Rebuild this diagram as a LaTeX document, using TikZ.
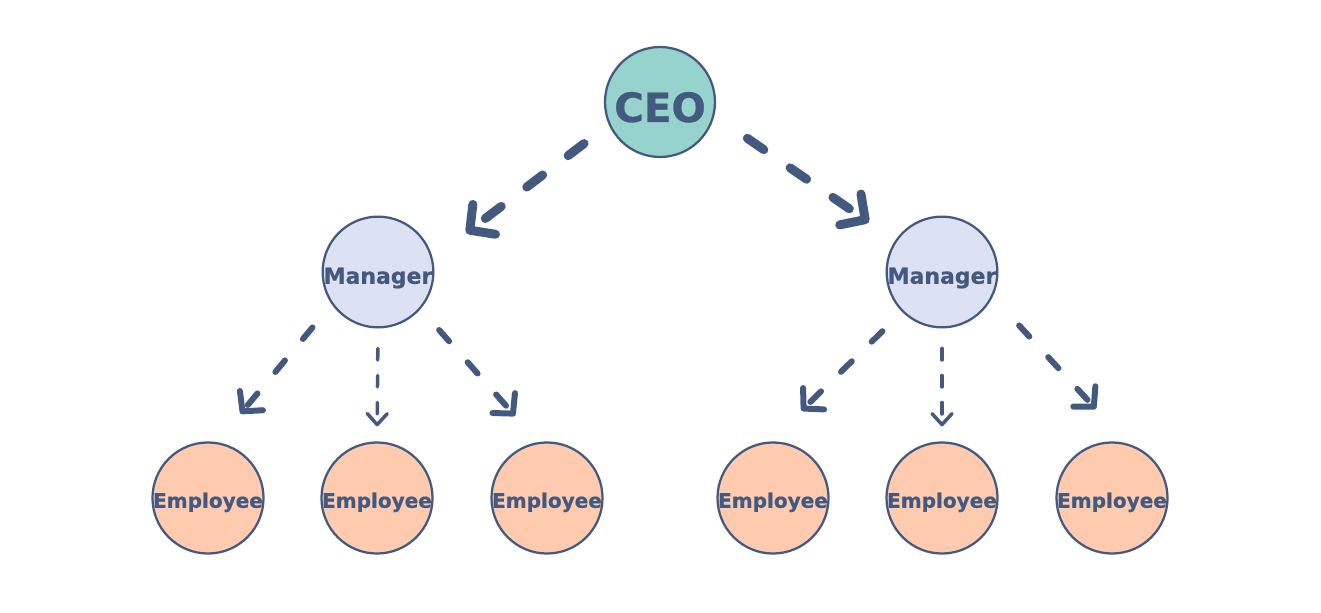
\documentclass[tikz,border=0pt]{standalone}
\usepackage{fontspec}
\setmainfont{DejaVu Sans}[BoldFeatures={FakeBold=0.6}]
\usepackage{tikz}
\usetikzlibrary{arrows.meta}
\definecolor{inkblue}{HTML}{44597F}
\definecolor{ceoteal}{HTML}{97D3CD}
\definecolor{mgrblue}{HTML}{DCE2F3}
\definecolor{emppeach}{HTML}{FECBAF}
\tikzset{
every person/.style={ % Sets the properties for each circle
circle,
draw=inkblue,
line width=0.045cm,
text=inkblue,
inner sep=0pt,
text depth=0pt,
minimum size=2.2cm},
ceo/.style={every person, fill=ceoteal, text height=0.8cm,
font=\fontsize{23}{26}\selectfont\bfseries},
manager/.style={every person, fill=mgrblue, text height=0.47cm,
font=\fontsize{12.5}{14}\selectfont\bfseries},
employee/.style={every person, fill=emppeach, text height=0.39cm,
font=\fontsize{11.4}{13}\selectfont\bfseries},
every edge/.style={ % Sets the properties for each dashed link
draw=inkblue,
line cap=round},
boss link/.style={line width=0.18cm, dash pattern=on 0.4cm off 0.64cm,
-{Straight Barb[round,length=0.36cm,width=0.75cm]}},
team link/.style={line width=0.12cm, dash pattern=on 0.3cm off 0.56cm,
-{Straight Barb[round,length=0.28cm,width=0.6cm]}},
direct link/.style={line width=0.07cm, dash pattern=on 0.23cm off 0.31cm,
-{Straight Barb[round,length=0.22cm,width=0.4cm]}}}

\begin{document}
\begin{tikzpicture}[x=0.02cm,y=-0.02cm]
\useasboundingbox (0,0) rectangle (1321,612);
\node[ceo] (ceo) at (660,102) {CEO};
\node[manager] (mgrL) at (378,272) {Manager};
\node[manager] (mgrR) at (942,272) {Manager};
\node[employee] (empL1) at (208,498) {Employee};
\node[employee] (empM1) at (377,498) {Employee};
\node[employee] (empR1) at (547,498) {Employee};
\node[employee] (empL2) at (773,498) {Employee};
\node[employee] (empM2) at (942,498) {Employee};
\node[employee] (empR2) at (1112,498) {Employee};
% CEO to managers
\draw (ceo.204) edge[boss link, shorten <=0.62cm, shorten >=0.84cm] (mgrL.14);
\draw (ceo.346) edge[boss link, shorten <=0.8cm, shorten >=0.64cm] (mgrR.146);
% managers to employees
\draw (mgrL.215) edge[team link, shorten <=0.6cm, shorten >=0.74cm] (empL1.81);
\draw (mgrL.south) edge[direct link, shorten <=0.4cm, shorten >=0.3cm] (empM1.north);
\draw (mgrL.319) edge[team link, shorten <=0.56cm, shorten >=0.7cm] (empR1.99);
\draw (mgrR.225) edge[team link, shorten <=0.55cm, shorten >=0.88cm] (empL2.93);
\draw (mgrR.south) edge[direct link, shorten <=0.4cm, shorten >=0.3cm] (empM2.north);
\draw (mgrR.334) edge[team link, shorten <=0.78cm, shorten >=0.94cm] (empR2.74);
\end{tikzpicture}
\end{document}
